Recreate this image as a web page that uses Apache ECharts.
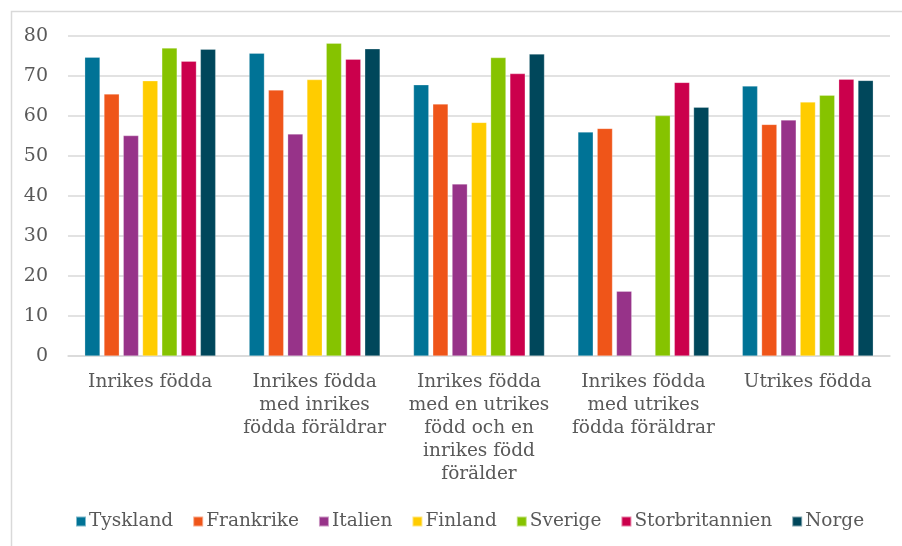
<!DOCTYPE html>
<html><head><meta charset="utf-8">
<script src="https://cdn.jsdelivr.net/npm/echarts@6/dist/echarts.min.js"></script>
<style>html,body{margin:0;padding:0;background:#fff}#c{width:902px;height:546px}</style>
</head><body><div id="c"></div>
<script>
const categories = [
  'Inrikes födda',
  'Inrikes födda\nmed inrikes\nfödda föräldrar',
  'Inrikes födda\nmed en utrikes\nfödd och en\ninrikes född\nförälder',
  'Inrikes födda\nmed utrikes\nfödda föräldrar',
  'Utrikes födda'
];
const yTicks = [0, 10, 20, 30, 40, 50, 60, 70, 80];
const seriesNames = ['Tyskland', 'Frankrike', 'Italien', 'Finland', 'Sverige', 'Storbritannien', 'Norge'];
const tyskland = [74.7, 75.7, 67.8, 56.0, 67.5];
const frankrike = [65.5, 66.5, 63.0, 56.9, 57.9];
const italien = [55.1, 55.5, 43.0, 16.2, 59.0];
const finland = [68.8, 69.1, 58.4, null, 63.5];
const sverige = [77.0, 78.2, 74.6, 60.1, 65.2];
const storbritannien = [73.7, 74.2, 70.6, 68.4, 69.2];
const norge = [76.7, 76.8, 75.5, 62.2, 68.9];
const values = [tyskland, frankrike, italien, finland, sverige, storbritannien, norge];
const colors = ['#007396', '#EF5519', '#973389', '#FFCC00', '#86C300', '#CB004C', '#00475B'];

const font = 'DejaVu Serif';
const chart = echarts.init(document.getElementById('c'), null, {renderer: 'canvas'});
chart.setOption({
  animation: false,
  backgroundColor: '#fff',
  color: colors,
  graphic: [{
    type: 'rect', left: 9, top: 9, silent: true, z: -10,
    shape: {width: 1000, height: 1000},
    style: {fill: 'none', stroke: '#d9d9d9', lineWidth: 1.5}
  }],
  grid: {left: 68, right: 12, top: 36, bottom: 190, containLabel: false},
  legend: {
    data: seriesNames,
    left: 70, top: 507,
    icon: 'rect', itemWidth: 10, itemHeight: 10, itemGap: 19,
    textStyle: {fontFamily: font, fontSize: 18.5, color: '#595959', padding: [0, 0, 0, -2]}
  },
  xAxis: {
    type: 'category', data: categories,
    axisLine: {lineStyle: {color: '#d9d9d9', width: 1.5}},
    axisTick: {show: false},
    axisLabel: {fontFamily: font, fontSize: 18.5, color: '#595959', lineHeight: 23, margin: 15, interval: 0}
  },
  yAxis: {
    type: 'value', min: yTicks[0], max: yTicks[yTicks.length - 1], interval: 10,
    axisLine: {show: false}, axisTick: {show: false},
    splitLine: {lineStyle: {color: '#d9d9d9', width: 1.5}},
    axisLabel: {fontFamily: font, fontSize: 19, color: '#595959', margin: 20}
  },
  series: seriesNames.map((n, i) => ({
    name: n, type: 'bar', data: values[i],
    barWidth: 15.3, barGap: '26%',
    itemStyle: {borderColor: 'rgba(255,255,255,0.5)', borderWidth: 0.5}
  }))
});
</script></body></html>
